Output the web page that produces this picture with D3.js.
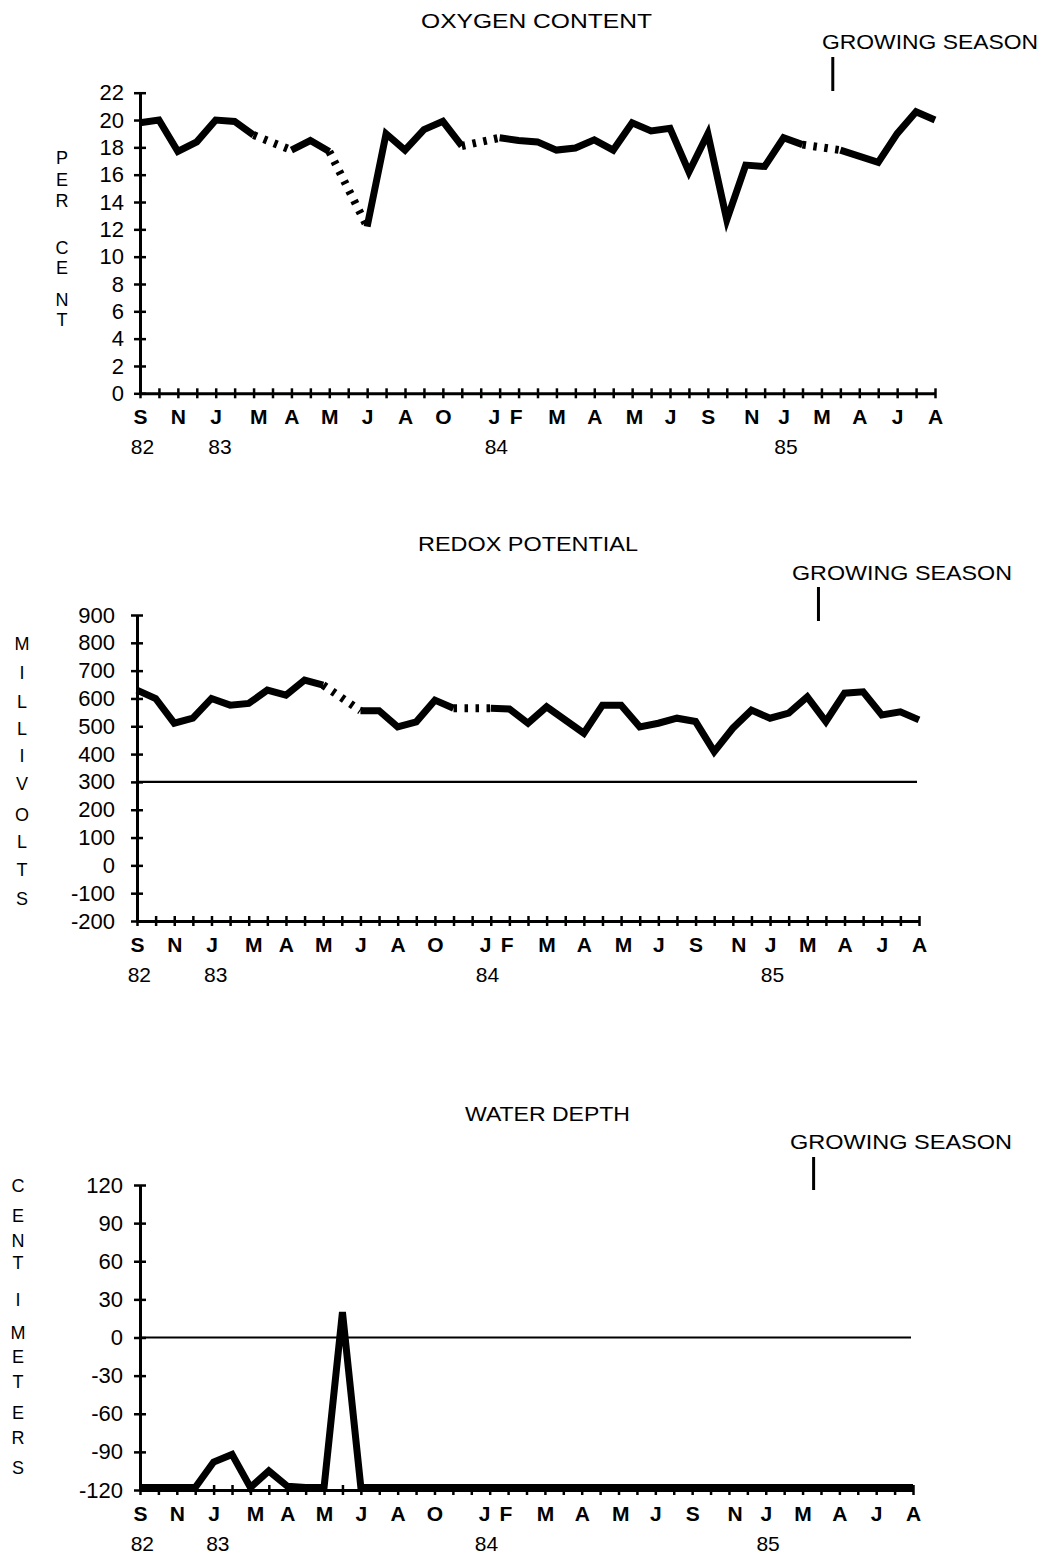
<!DOCTYPE html>
<html>
<head>
<meta charset="utf-8">
<script src="https://cdn.jsdelivr.net/npm/d3@7"></script>
<style>
body { margin: 0; background: #fff; }
text { font-family: "Liberation Sans", Arial, Helvetica, sans-serif; fill: #000; }
</style>
</head>
<body>
<script>
// one tick per sampling date, Sep 1982 .. Aug 1985
var sampleCount = 43;
var monthLabels = ['S','N','J','M','A','M','J','A','O','J','F','M','A','M','J','S','N','J','M','A','J','A'];
var monthAt = [0, 2, 4, 6.25, 8, 10, 12, 14, 16, 18.7, 19.85, 22, 24, 26.1, 28, 30, 32.3, 34, 36, 38, 40, 42];
var yearLabels = ['82', '83', '84', '85'];
var yearAt = [0.1, 4.2, 18.8, 34.1];
var growingSeasonAt = 36.6;

// oxygen content, percent (null = no sample, bridged by dotted line)
var oxygen = [19.8, 20.0, 17.7, 18.4, 20.0, 19.9, 18.9, null, 17.8, 18.5,
              17.7, null, 12.2, 19.0, 17.8, 19.3, 19.9, 18.1, null, 18.7,
              18.5, 18.4, 17.8, 17.95, 18.55, 17.8, 19.8, 19.2, 19.4, 16.2,
              19.0, 12.7, 16.7, 16.6, 18.7, 18.2, null, 17.8, null, 16.9,
              19.0, 20.6, 20.0];
var oxygenDotted = [[6, 8], [10, 12], [17, 19], [35, 37]];
var oxygenTicks = [0, 2, 4, 6, 8, 10, 12, 14, 16, 18, 20, 22];

// redox potential, millivolts
var redox = [630, 600, 511, 529, 600, 576, 582, 630, 612, 666,
             648, null, 556, 556, 498, 516, 594, 565, null, 565,
             562, 511, 570, null, 475, 576, 576, 498, 511, 529,
             517, 409, 493, 558, 529, 547, 606, 517, 619, 624,
             541, 552, 523];
var redoxDotted = [[10, 12], [17, 19]];
var redoxTicks = [-200, -100, 0, 100, 200, 300, 400, 500, 600, 700, 800, 900];
var redoxRef = 300;

// water depth, centimeters
var depth = [-118, -118, -118, -118, -98, -92, -118, -105, -117, -118,
             -118, 20, -118, -118, -118, -118, -118, -118, -118, -118,
             -118, -118, -118, -118, -118, -118, -118, -118, -118, -118,
             -118, -118, -118, -118, -118, -118, -118, -118, -118, -118,
             -118, -118, -118];
var depthDotted = [];
var depthTicks = [-120, -90, -60, -30, 0, 30, 60, 90, 120];
var depthRef = 0;

var svg = d3.select('body').append('svg')
    .attr('width', 1045)
    .attr('height', 1558);

var panels = [
    {title: 'OXYGEN CONTENT', titleX: 421, titleY: 28, titleW: 231,
     seasonX: 822, seasonY: 49, seasonW: 216, markY: [57, 91],
     axisTitle: 'PERCENT', axisTitleX: 62, axisTitleY: [158, 180, 201, 248, 268, 300, 320],
     values: oxygen, dotted: oxygenDotted, ticks: oxygenTicks, ref: null,
     left: 140, right: 935, top: 92.7, bottom: 393.3, labelPad: 10},
    {title: 'REDOX POTENTIAL', titleX: 418, titleY: 551, titleW: 220,
     seasonX: 792, seasonY: 580, seasonW: 220, markY: [587, 621],
     axisTitle: 'MILLIVOLTS', axisTitleX: 22, axisTitleY: [644, 673, 702, 729, 756, 784, 815, 842, 870, 899],
     values: redox, dotted: redoxDotted, ticks: redoxTicks, ref: redoxRef,
     left: 137, right: 919, top: 615, bottom: 921, labelPad: 16},
    {title: 'WATER DEPTH', titleX: 465, titleY: 1121, titleW: 165,
     seasonX: 790, seasonY: 1149, seasonW: 222, markY: [1157, 1190],
     axisTitle: 'CENTIMETERS', axisTitleX: 18, axisTitleY: [1186, 1216, 1241, 1263, 1300, 1333, 1357, 1382, 1413, 1438, 1468],
     values: depth, dotted: depthDotted, ticks: depthTicks, ref: depthRef,
     left: 140, right: 913, top: 1185, bottom: 1490, labelPad: 11}
];

panels.forEach(drawPanel);

function drawPanel(p) {
    var x = d3.scaleLinear().domain([0, sampleCount - 1]).range([p.left, p.right]);
    var y = d3.scaleLinear().domain([p.ticks[0], p.ticks[p.ticks.length - 1]]).range([p.bottom, p.top]);
    var g = svg.append('g');

    g.append('text')
        .attr('x', p.titleX)
        .attr('y', p.titleY)
        .attr('font-size', 21)
        .attr('textLength', p.titleW)
        .attr('lengthAdjust', 'spacingAndGlyphs')
        .text(p.title);

    g.append('text')
        .attr('x', p.seasonX)
        .attr('y', p.seasonY)
        .attr('font-size', 21)
        .attr('textLength', p.seasonW)
        .attr('lengthAdjust', 'spacingAndGlyphs')
        .text('GROWING SEASON');

    g.append('line')
        .attr('x1', x(growingSeasonAt))
        .attr('x2', x(growingSeasonAt))
        .attr('y1', p.markY[0])
        .attr('y2', p.markY[1])
        .attr('stroke', '#000')
        .attr('stroke-width', 3);

    // vertical axis title, one letter per line
    g.selectAll('.ytitle')
        .data(p.axisTitle.split(''))
        .enter().append('text')
        .attr('x', p.axisTitleX)
        .attr('y', function (d, i) { return p.axisTitleY[i]; })
        .attr('dy', '0.36em')
        .attr('text-anchor', 'middle')
        .attr('font-size', 18)
        .text(function (d) { return d; });

    if (p.ref !== null) {
        g.append('line')
            .attr('x1', p.left)
            .attr('x2', p.right - 2)
            .attr('y1', y(p.ref))
            .attr('y2', y(p.ref))
            .attr('stroke', '#000')
            .attr('stroke-width', 2.2);
    }

    // y axis, ticks crossing the axis line; plain hyphen for negatives
    var yAxis = g.append('g')
        .attr('transform', 'translate(' + p.left + ',0)')
        .call(d3.axisLeft(y).tickValues(p.ticks).tickSize(6).tickSizeOuter(0).tickPadding(p.labelPad)
            .tickFormat(function (d) { return String(d); }));
    yAxis.attr('font-size', 22);
    yAxis.select('.domain').attr('stroke-width', 3);
    yAxis.selectAll('.tick line').attr('x1', 6).attr('stroke-width', 2.5);

    // x axis, one tick per sample
    var xAxis = g.append('g')
        .attr('transform', 'translate(0,' + p.bottom + ')')
        .call(d3.axisBottom(x).tickValues(d3.range(sampleCount)).tickSize(5).tickSizeOuter(0).tickFormat(''));
    xAxis.select('.domain').attr('stroke-width', 3);
    xAxis.selectAll('.tick line').attr('y1', -5).attr('stroke-width', 2.5);

    var months = g.append('g')
        .attr('transform', 'translate(0,' + p.bottom + ')')
        .call(d3.axisBottom(x).tickValues(monthAt).tickSize(0).tickPadding(16)
            .tickFormat(function (d, i) { return monthLabels[i]; }));
    months.select('.domain').remove();
    months.attr('font-size', 21).attr('font-weight', 'bold');

    var years = g.append('g')
        .attr('transform', 'translate(0,' + p.bottom + ')')
        .call(d3.axisBottom(x).tickValues(yearAt).tickSize(0).tickPadding(46)
            .tickFormat(function (d, i) { return yearLabels[i]; }));
    years.select('.domain').remove();
    years.attr('font-size', 21);

    // split the series into solid runs and dotted bridges
    var pts = p.values.map(function (v, i) { return {i: i, v: v}; })
        .filter(function (d) { return d.v !== null; });
    var runs = [];
    var dots = [];
    for (var k = 1; k < pts.length; k++) {
        var a = pts[k - 1], b = pts[k];
        var isDot = p.dotted.some(function (s) { return a.i >= s[0] && b.i <= s[1]; });
        if (isDot) {
            dots.push([a, b]);
        } else {
            var last = runs.length ? runs[runs.length - 1] : null;
            if (last && last[last.length - 1] === a) last.push(b);
            else runs.push([a, b]);
        }
    }

    var line = d3.line()
        .x(function (d) { return x(d.i); })
        .y(function (d) { return y(d.v); });

    g.selectAll('.run')
        .data(runs)
        .enter().append('path')
        .attr('d', line)
        .attr('fill', 'none')
        .attr('stroke', '#000')
        .attr('stroke-width', 7);

    g.selectAll('.dot')
        .data(dots)
        .enter().append('path')
        .attr('d', line)
        .attr('fill', 'none')
        .attr('stroke', '#000')
        .attr('stroke-width', 8)
        .attr('stroke-dasharray', '3.5,7.5');
}
</script>
</body>
</html>
